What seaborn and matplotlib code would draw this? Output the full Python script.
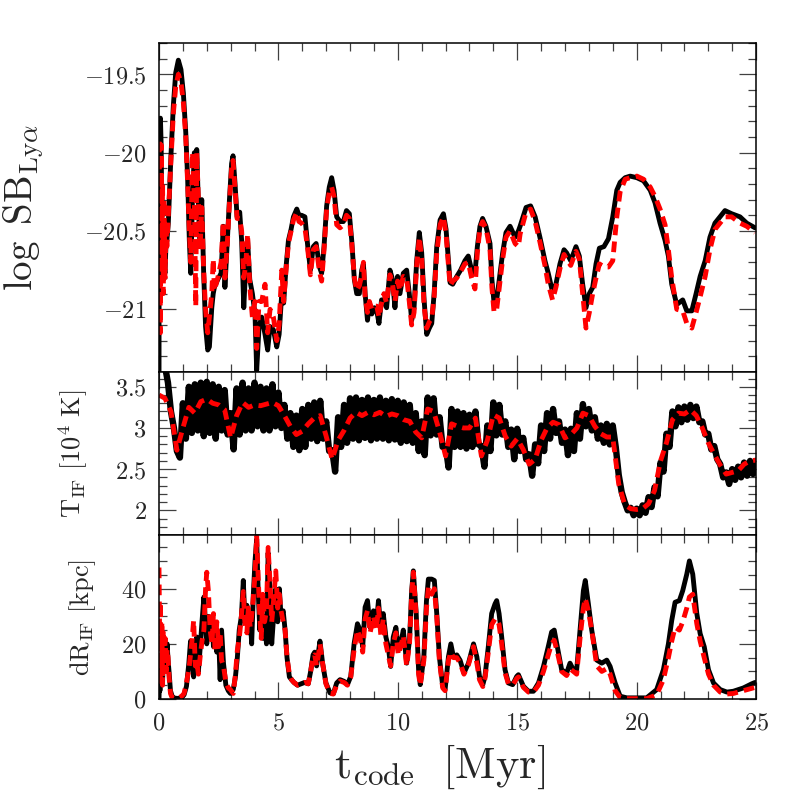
import numpy as np
import pandas as pd
import seaborn as sns
import matplotlib
matplotlib.use('Agg')
import matplotlib.pyplot as plt
from matplotlib.ticker import MultipleLocator, FuncFormatter

# ---- top panel: log SB_Lya ----
t_sb = [0.00, 0.01, 0.03, 0.06, 0.09, 0.12, 0.15, 0.18, 0.21, 0.25, 0.29, 0.33, 0.39, 0.50, 0.60,
        0.70, 0.81, 0.92, 1.02, 1.12, 1.20, 1.27, 1.33, 1.40, 1.48, 1.54, 1.58, 1.65, 1.72, 1.79,
        1.87, 1.95, 2.04, 2.11, 2.21, 2.27, 2.32, 2.46, 2.60, 2.69, 2.76, 2.86, 2.95, 3.04, 3.10,
        3.18, 3.27, 3.38, 3.46, 3.55, 3.63, 3.71, 3.80, 3.91, 4.02, 4.09, 4.19, 4.30, 4.44, 4.55,
        4.65, 4.79, 4.93, 5.03, 5.14, 5.22, 5.32, 5.42, 5.53, 5.63, 5.77, 5.86, 5.97, 6.11, 6.23,
        6.34, 6.46, 6.58, 6.72, 6.81, 6.91, 7.02, 7.13, 7.23, 7.33, 7.44, 7.58, 7.72, 7.85, 7.97,
        8.07, 8.18, 8.28, 8.39, 8.49, 8.56, 8.63, 8.73, 8.81, 8.91, 9.02, 9.12, 9.21, 9.32, 9.42,
        9.53, 9.67, 9.78, 9.88, 9.99, 10.09, 10.23, 10.37, 10.48, 10.58, 10.68, 10.79, 10.90, 11.00,
        11.10, 11.21, 11.32, 11.42, 11.52, 11.63, 11.77, 11.91, 12.02, 12.12, 12.19, 12.30, 12.47,
        12.63, 12.81, 12.95, 13.09, 13.23, 13.33, 13.44, 13.55, 13.69, 13.86, 13.94, 14.03, 14.14,
        14.25, 14.39, 14.53, 14.70, 14.91, 15.05, 15.12, 15.37, 15.56, 15.75, 15.95, 16.16, 16.30,
        16.48, 16.62, 16.79, 16.96, 17.07, 17.24, 17.46, 17.60, 17.74, 17.88, 18.02, 18.16, 18.30,
        18.44, 18.63, 18.82, 19.00, 19.17, 19.31, 19.52, 19.73, 20.01, 20.29, 20.57, 20.77, 20.98,
        21.19, 21.33, 21.47, 21.68, 21.93, 22.10, 22.31, 22.49, 22.66, 22.87, 23.07, 23.28, 23.49,
        23.70, 23.98, 24.33, 24.61, 24.96]
sb_black = [-21.60, -19.90, -19.80, -19.78, -19.95, -20.40, -20.60, -20.55, -20.70, -20.77, -20.60,
            -20.56, -20.45, -20.02, -19.70, -19.49, -19.41, -19.47, -19.62, -19.87, -20.17, -20.56,
            -20.77, -20.30, -20.00, -20.20, -19.98, -20.34, -20.60, -20.30, -20.77, -21.11, -21.26,
            -21.24, -20.99, -20.90, -20.86, -20.81, -20.77, -20.47, -20.86, -20.56, -20.30, -20.07,
            -20.02, -20.19, -20.41, -20.38, -20.56, -20.99, -20.73, -20.56, -20.81, -20.90, -21.03,
            -21.39, -21.11, -21.05, -21.16, -21.26, -21.11, -21.13, -21.24, -21.16, -20.90, -20.96,
            -20.73, -20.56, -20.49, -20.41, -20.36, -20.40, -20.40, -20.41, -20.60, -20.75, -20.60,
            -20.58, -20.73, -20.77, -20.60, -20.34, -20.22, -20.16, -20.24, -20.41, -20.44, -20.44,
            -20.37, -20.39, -20.56, -20.81, -20.90, -20.90, -20.75, -20.71, -20.90, -21.07, -20.96,
            -21.03, -20.99, -21.01, -21.09, -20.94, -20.94, -20.99, -20.75, -20.81, -20.99, -20.79,
            -20.90, -20.77, -20.75, -20.90, -21.07, -20.99, -20.69, -20.51, -20.64, -20.94, -21.16,
            -21.12, -21.09, -20.90, -20.60, -20.43, -20.39, -20.49, -20.69, -20.83, -20.84, -20.79,
            -20.75, -20.69, -20.66, -20.75, -20.77, -20.60, -20.47, -20.42, -20.47, -20.58, -20.81,
            -20.96, -20.94, -20.81, -20.64, -20.51, -20.47, -20.54, -20.50, -20.47, -20.35, -20.34,
            -20.41, -20.54, -20.69, -20.77, -20.89, -20.84, -20.71, -20.62, -20.64, -20.69, -20.60,
            -20.66, -20.84, -20.99, -20.90, -20.86, -20.71, -20.61, -20.60, -20.55, -20.41, -20.24,
            -20.19, -20.16, -20.15, -20.16, -20.18, -20.24, -20.32, -20.45, -20.56, -20.66, -20.84,
            -20.97, -20.94, -21.01, -21.01, -20.90, -20.79, -20.69, -20.54, -20.45, -20.41, -20.37,
            -20.39, -20.41, -20.45, -20.48]
sb_red = [-19.93, -20.00, -20.40, -21.15, -19.95, -20.60, -20.20, -20.90, -20.30, -20.80, -20.50,
          -20.60, -20.40, -20.05, -19.75, -19.58, -19.50, -19.55, -19.68, -19.90, -20.20, -20.50,
          -20.70, -20.00, -20.30, -20.98, -20.00, -20.30, -20.62, -20.35, -20.75, -21.00, -21.15,
          -21.05, -20.90, -20.68, -20.88, -20.80, -20.70, -20.44, -20.80, -20.58, -20.32, -20.10,
          -20.05, -20.22, -20.42, -20.42, -20.50, -20.80, -20.72, -20.52, -20.85, -21.05, -20.95,
          -21.25, -20.95, -20.95, -20.84, -21.15, -21.00, -21.05, -21.20, -21.10, -20.75, -20.95,
          -20.75, -20.58, -20.50, -20.43, -20.38, -20.44, -20.45, -20.48, -20.62, -20.78, -20.62,
          -20.60, -20.76, -20.82, -20.62, -20.36, -20.25, -20.22, -20.28, -20.46, -20.48, -20.46,
          -20.40, -20.42, -20.58, -20.80, -20.88, -20.85, -20.78, -20.70, -20.92, -21.02, -20.95,
          -21.00, -20.98, -20.98, -21.05, -20.96, -20.90, -20.96, -20.78, -20.84, -20.95, -20.82,
          -20.88, -20.79, -20.80, -20.95, -21.10, -21.02, -20.72, -20.54, -20.68, -20.98, -21.12,
          -21.08, -21.06, -20.92, -20.64, -20.46, -20.41, -20.52, -20.72, -20.85, -20.82, -20.80,
          -20.76, -20.71, -20.70, -20.80, -20.87, -20.64, -20.48, -20.44, -20.48, -20.62, -20.86,
          -21.02, -21.00, -20.86, -20.68, -20.54, -20.50, -20.58, -20.60, -20.52, -20.38, -20.36,
          -20.44, -20.57, -20.72, -20.84, -20.94, -20.86, -20.74, -20.65, -20.68, -20.72, -20.63,
          -20.68, -20.90, -21.12, -21.02, -20.90, -20.80, -20.71, -20.73, -20.73, -20.69, -20.41,
          -20.25, -20.17, -20.16, -20.15, -20.17, -20.22, -20.28, -20.36, -20.46, -20.62, -20.80,
          -21.00, -21.01, -21.09, -21.12, -21.02, -20.92, -20.79, -20.62, -20.49, -20.45, -20.41,
          -20.41, -20.45, -20.47, -20.51]

# ---- middle panel: T_IF, black band envelope (hi/lo) and red curve ----
t_T = [0.00, 0.25, 0.50, 0.75, 1.00, 1.25, 1.50, 1.75, 2.00, 2.25, 2.50, 2.75, 3.00, 3.25, 3.50,
       3.75, 4.00, 4.25, 4.50, 4.75, 5.00, 5.25, 5.50, 5.75, 6.00, 6.25, 6.50, 6.75, 7.00, 7.25,
       7.50, 7.75, 8.00, 8.25, 8.50, 8.75, 9.00, 9.25, 9.50, 9.75, 10.00, 10.25, 10.50, 10.75,
       11.00, 11.25, 11.50, 11.75, 12.00, 12.25, 12.50, 12.75, 13.00, 13.25, 13.50, 13.75, 14.00,
       14.25, 14.50, 14.75, 15.00, 15.25, 15.50, 15.75, 16.00, 16.25, 16.50, 16.75, 17.00, 17.25,
       17.50, 17.75, 18.00, 18.25, 18.50, 18.75, 19.00, 19.25, 19.50, 19.75, 20.00, 20.25, 20.50,
       20.75, 21.00, 21.25, 21.50, 21.75, 22.00, 22.25, 22.50, 22.75, 23.00, 23.25, 23.50, 23.75,
       24.00, 24.25, 24.50, 24.75, 25.00]
T_hi = [3.80, 3.75, 3.20, 2.72, 3.30, 3.50, 3.53, 3.55, 3.56, 3.53, 3.50, 3.46, 3.18, 3.48, 3.55,
        3.48, 3.55, 3.50, 3.48, 3.53, 3.43, 3.28, 3.18, 3.15, 3.23, 3.28, 3.31, 3.33, 3.08, 2.73,
        3.13, 3.28, 3.36, 3.37, 3.34, 3.37, 3.34, 3.37, 3.33, 3.35, 3.33, 3.31, 3.28, 3.18, 3.08,
        3.37, 3.36, 3.13, 2.78, 3.23, 3.20, 3.18, 3.16, 3.20, 2.78, 3.03, 3.31, 3.28, 3.08, 2.98,
        2.99, 2.88, 2.68, 2.80, 3.03, 3.18, 3.23, 3.08, 2.98, 2.99, 3.18, 3.29, 3.23, 3.13, 3.03,
        3.05, 3.03, 2.43, 2.10, 2.03, 2.02, 2.06, 2.16, 2.28, 2.58, 2.93, 3.20, 3.25, 3.26, 3.28,
        3.26, 3.08, 2.93, 2.78, 2.56, 2.46, 2.50, 2.53, 2.58, 2.60, 2.60]
T_lo = [3.75, 3.55, 3.00, 2.64, 2.87, 2.94, 2.97, 2.90, 2.94, 2.87, 2.97, 2.92, 2.74, 2.92, 2.97,
        2.97, 3.02, 2.97, 2.97, 3.02, 3.00, 2.87, 2.77, 2.73, 2.77, 2.87, 2.84, 2.87, 2.72, 2.47,
        2.77, 2.82, 2.87, 2.85, 2.88, 2.85, 2.87, 2.87, 2.85, 2.86, 2.82, 2.84, 2.82, 2.72, 2.67,
        2.91, 2.92, 2.77, 2.52, 2.77, 2.77, 2.75, 2.77, 2.80, 2.53, 2.72, 2.91, 2.92, 2.77, 2.62,
        2.72, 2.62, 2.42, 2.57, 2.72, 2.87, 2.94, 2.82, 2.67, 2.72, 2.87, 3.02, 2.97, 2.87, 2.82,
        2.80, 2.77, 2.22, 2.00, 1.94, 1.94, 1.97, 2.04, 2.17, 2.47, 2.77, 3.02, 3.07, 3.10, 3.12,
        3.07, 2.92, 2.74, 2.62, 2.40, 2.32, 2.37, 2.40, 2.42, 2.44, 2.47]
T_red = [3.40, 3.36, 3.20, 2.73, 3.00, 3.25, 3.18, 3.32, 3.35, 3.30, 3.28, 3.22, 2.88, 3.15, 3.31,
         3.25, 3.28, 3.27, 3.29, 3.31, 3.27, 3.15, 3.02, 2.92, 2.96, 3.05, 3.12, 3.15, 2.90, 2.62,
         2.85, 2.97, 3.12, 3.19, 3.15, 3.19, 3.16, 3.19, 3.14, 3.17, 3.15, 3.10, 3.08, 2.95, 2.88,
         3.23, 3.20, 2.95, 2.66, 3.05, 3.02, 3.00, 3.00, 3.12, 2.66, 2.85, 3.16, 3.12, 2.90, 2.78,
         2.87, 2.74, 2.56, 2.62, 2.85, 3.00, 3.07, 3.04, 2.88, 2.92, 3.00, 3.18, 3.15, 3.02, 2.93,
         2.89, 2.89, 2.32, 2.07, 2.02, 2.01, 2.02, 2.08, 2.24, 2.60, 2.82, 3.10, 3.18, 3.17, 3.22,
         3.15, 3.00, 2.82, 2.68, 2.55, 2.44, 2.46, 2.48, 2.56, 2.60, 2.61]

# ---- bottom panel: dR_IF [kpc] ----
t_dr = [0.00, 0.02, 0.04, 0.06, 0.09, 0.12, 0.15, 0.18, 0.22, 0.26, 0.30, 0.34, 0.38, 0.42, 0.48,
        0.55, 0.65, 0.80, 0.95, 1.05, 1.15, 1.25, 1.32, 1.38, 1.45, 1.52, 1.58, 1.65, 1.72, 1.80,
        1.88, 1.95, 2.00, 2.07, 2.14, 2.22, 2.28, 2.35, 2.42, 2.50, 2.56, 2.62, 2.70, 2.80, 2.90,
        2.99, 3.11, 3.20, 3.28, 3.36, 3.45, 3.53, 3.60, 3.68, 3.74, 3.82, 3.88, 3.95, 4.02, 4.09,
        4.15, 4.22, 4.28, 4.35, 4.42, 4.50, 4.57, 4.65, 4.72, 4.80, 4.89, 4.97, 5.04, 5.11, 5.20,
        5.28, 5.36, 5.46, 5.55, 5.65, 5.80, 5.95, 6.10, 6.25, 6.35, 6.45, 6.52, 6.60, 6.66, 6.74,
        6.85, 6.99, 7.16, 7.30, 7.44, 7.58, 7.75, 7.89, 8.03, 8.17, 8.31, 8.42, 8.53, 8.63, 8.73,
        8.84, 8.98, 9.10, 9.19, 9.29, 9.39, 9.50, 9.60, 9.70, 9.81, 9.92, 10.02, 10.12, 10.23,
        10.37, 10.49, 10.58, 10.65, 10.77, 10.87, 10.94, 11.09, 11.20, 11.28, 11.42, 11.53, 11.63,
        11.74, 11.88, 11.98, 12.12, 12.22, 12.33, 12.47, 12.61, 12.77, 12.96, 13.17, 13.31, 13.42,
        13.56, 13.65, 13.79, 13.93, 14.07, 14.14, 14.24, 14.35, 14.49, 14.63, 14.81, 14.98, 15.05,
        15.26, 15.47, 15.68, 15.89, 16.10, 16.30, 16.44, 16.55, 16.68, 16.86, 17.07, 17.21, 17.35,
        17.49, 17.63, 17.77, 17.85, 17.98, 18.12, 18.33, 18.54, 18.75, 18.89, 19.10, 19.31, 19.59,
        19.87, 20.42, 20.84, 21.12, 21.33, 21.47, 21.61, 21.79, 21.93, 22.10, 22.21, 22.35, 22.52,
        22.66, 22.83, 23.01, 23.22, 23.50, 23.78, 24.05, 24.47, 24.82, 24.96]
dr_black = [0.0, 8.0, 3.0, 14.0, 8.0, 12.0, 6.0, 15.0, 10.0, 20.0, 12.0, 20.0, 14.0, 10.0, 3.0,
            1.0, 0.3, 0.2, 0.5, 1.5, 4.6, 13.0, 21.0, 15.0, 8.0, 12.0, 22.5, 10.0, 18.0, 28.0,
            37.0, 27.0, 20.0, 30.0, 22.0, 28.0, 19.0, 25.0, 17.0, 22.0, 7.0, 25.0, 13.0, 5.0, 3.0,
            2.0, 3.5, 8.0, 15.0, 25.0, 30.0, 43.0, 28.0, 34.0, 24.0, 30.0, 20.0, 38.0, 50.0, 58.0,
            40.0, 25.0, 35.0, 22.0, 30.0, 20.0, 53.0, 38.0, 20.0, 30.0, 40.0, 28.0, 40.0, 30.0, 32.0,
            25.0, 15.0, 8.0, 7.0, 6.0, 5.0, 5.5, 6.0, 5.5, 10.0, 16.0, 17.0, 12.0, 16.0, 21.0,
            13.0, 5.8, 2.2, 1.9, 5.8, 7.0, 6.4, 5.2, 8.2, 20.1, 27.3, 25.0, 19.0, 33.3, 35.7,
            26.0, 32.0, 27.0, 35.7, 25.0, 31.0, 22.5, 19.0, 11.8, 22.5, 26.0, 17.7, 20.0, 25.0,
            13.0, 21.3, 39.3, 46.5, 31.0, 10.6, 5.2, 15.3, 35.7, 43.5, 43.5, 43.0, 31.0,
            15.3, 4.6, 3.4, 15.3, 20.0, 15.3, 16.0, 14.0, 9.4, 13.0, 20.0, 15.3, 8.2,
            5.2, 8.2, 19.0, 31.0, 34.5, 35.7, 31.0, 22.5, 10.6, 5.8, 5.2, 8.2, 8.8,
            4.6, 2.8, 2.8, 5.8, 11.8, 19.0, 24.3, 25.0, 19.0, 10.6, 9.4, 13.0, 10.6,
            10.6, 25.0, 39.3, 43.0, 34.5, 25.0, 14.1, 13.0, 14.1, 11.8, 5.8, 1.0, 0.4,
            0.4, 0.4, 3.4, 10.6, 20.0, 28.5, 35.1, 35.7, 39.3, 45.3, 50.1, 45.3, 31.0,
            23.7, 19.0, 10.6, 5.8, 3.4, 2.5, 2.8, 4.0, 5.5, 6.0]
dr_red = [47.7, 30.0, 5.0, 35.0, 10.0, 28.0, 5.0, 25.0, 12.0, 22.0, 10.0, 18.0, 15.0, 8.0, 2.0,
          0.5, 0.2, 0.3, 1.0, 2.0, 6.0, 10.5, 16.0, 21.0, 28.5, 12.0, 14.0, 9.0, 15.0, 21.0,
          25.0, 40.0, 46.0, 39.0, 25.0, 20.0, 31.0, 17.0, 28.0, 19.0, 24.0, 14.0, 12.0, 6.0, 4.0,
          3.4, 2.0, 9.0, 17.7, 22.0, 30.0, 39.0, 27.0, 24.0, 33.0, 26.0, 30.0, 37.0, 45.0, 59.0,
          45.0, 30.0, 22.0, 38.0, 28.0, 32.0, 55.0, 42.0, 28.0, 36.0, 46.5, 33.0, 38.0, 32.0, 28.0,
          25.0, 15.0, 9.0, 7.0, 6.0, 5.0, 5.5, 6.0, 5.5, 10.0, 15.0, 16.0, 12.0, 15.0, 20.0,
          13.0, 5.5, 2.0, 1.8, 5.0, 6.5, 6.0, 5.0, 8.0, 18.0, 25.0, 22.0, 17.0, 29.0, 32.0,
          24.0, 30.0, 25.0, 33.0, 23.0, 29.0, 20.0, 16.0, 12.0, 20.0, 24.0, 16.0, 19.0, 23.0,
          12.0, 20.0, 38.0, 46.0, 30.0, 9.0, 5.0, 14.0, 33.0, 40.5, 38.0, 40.0, 30.0,
          14.0, 4.0, 3.0, 14.0, 17.0, 15.0, 15.0, 13.0, 9.0, 12.5, 19.0, 13.0, 7.0,
          4.5, 7.5, 17.0, 27.0, 29.0, 29.0, 27.0, 20.0, 9.5, 5.5, 5.0, 7.5, 8.0,
          4.2, 2.5, 2.5, 5.0, 10.0, 16.0, 20.0, 21.3, 17.0, 10.0, 8.5, 11.0, 10.0,
          9.0, 22.0, 33.0, 36.5, 32.0, 25.0, 12.0, 10.0, 11.0, 9.0, 3.0, 0.5, 0.1,
          0.1, 0.1, 1.5, 7.0, 15.0, 21.0, 26.0, 25.0, 28.0, 33.0, 37.0, 38.0, 27.3,
          21.0, 15.0, 9.0, 5.0, 2.5, 1.8, 2.0, 3.0, 3.8, 4.2]

# black T band: the curve oscillates between the read upper and lower envelopes
t_zig, T_zig = [], []
for t, hi, lo in zip(t_T, T_hi, T_lo):
    t_zig += [t, t + 0.125]
    T_zig += [hi, lo]

sns.set_theme(style='ticks')
plt.rcParams['font.family'] = ['DejaVu Serif']
plt.rcParams['mathtext.fontset'] = 'cm'
plt.rcParams['axes.linewidth'] = 1.1

fig = plt.figure(figsize=(7.97, 7.97), dpi=100)
ax1 = fig.add_axes([0.1995, 0.5333, 0.7491, 0.4128])
ax2 = fig.add_axes([0.1995, 0.3287, 0.7491, 0.2046])
ax3 = fig.add_axes([0.1995, 0.1230, 0.7491, 0.2057])

lw = 3.5
sns.lineplot(x=t_sb, y=sb_black, ax=ax1, color='black', linewidth=lw, estimator=None, sort=False)
sns.lineplot(x=t_sb, y=sb_red, ax=ax1, color='red', linewidth=lw, estimator=None, sort=False)
sns.lineplot(x=t_zig, y=T_zig, ax=ax2, color='black', linewidth=4.6, estimator=None, sort=False)
sns.lineplot(x=t_T, y=T_red, ax=ax2, color='red', linewidth=lw, estimator=None, sort=False)
sns.lineplot(x=t_dr, y=dr_black, ax=ax3, color='black', linewidth=lw, estimator=None, sort=False)
sns.lineplot(x=t_dr, y=dr_red, ax=ax3, color='red', linewidth=lw, estimator=None, sort=False)
for ax in (ax1, ax2, ax3):
    ax.lines[-1].set_dashes((2.2, 1.3))

fmt = FuncFormatter(lambda v, p: f'${v:g}$')
ylims = [(-21.4, -19.3), (1.7, 3.68), (0, 59.5)]
majors = [0.5, 0.5, 20]
minors = [0.1, 0.1, 5]
for ax, yl, mj, mn in zip((ax1, ax2, ax3), ylims, majors, minors):
    ax.set_xlim(0, 25)
    ax.set_ylim(*yl)
    ax.xaxis.set_major_locator(MultipleLocator(5))
    ax.xaxis.set_minor_locator(MultipleLocator(1))
    ax.yaxis.set_major_locator(MultipleLocator(mj))
    ax.yaxis.set_minor_locator(MultipleLocator(mn))
    ax.yaxis.set_major_formatter(fmt)
    ax.xaxis.set_major_formatter(fmt)
    ax.tick_params(which='both', direction='in', top=True, right=True, color='0.25', width=0.9)
    ax.tick_params(which='major', length=12, labelsize=17.5, pad=9)
    ax.tick_params(which='minor', length=6)
    ax.set_xlabel('')
    for s in ax.spines.values():
        s.set_color('black')

ax1.tick_params(labelbottom=False)
ax2.tick_params(labelbottom=False)

ax1.set_ylabel(r'$\log\ \mathrm{SB}_{\mathrm{Ly}\alpha}$', fontsize=28)
ax1.yaxis.set_label_coords(-0.19, 0.5)
ax2.set_ylabel(r'$\mathrm{T}_{\mathrm{IF}}\ [10^4\ \mathrm{K}]$', fontsize=19)
ax2.yaxis.set_label_coords(-0.116, 0.5)
ax3.set_ylabel(r'$\mathrm{dR}_{\mathrm{IF}}\ [\mathrm{kpc}]$', fontsize=19)
ax3.yaxis.set_label_coords(-0.103, 0.5)
ax3.set_xlabel(r'$\mathrm{t}_{\mathrm{code}}\ \ [\mathrm{Myr}]$', fontsize=32)
ax3.xaxis.set_label_coords(0.47, -0.265)

fig.savefig('out.png', dpi=100)
